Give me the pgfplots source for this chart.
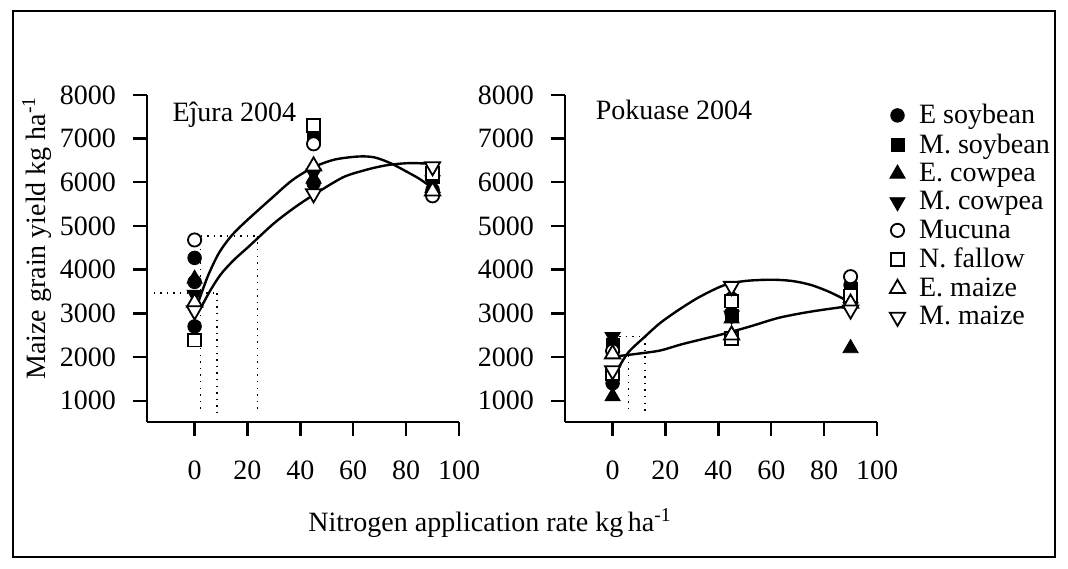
\documentclass[border=0pt]{standalone}
\usepackage{fontspec}
\setmainfont{Liberation Serif}
\usepackage{pgfplots}
\pgfplotsset{compat=1.18}

\newcommand{\lab}{\fontsize{14}{16}\selectfont}

\pgfplotsset{
  panel/.style={
    scale only axis, width=156pt, height=163.4pt,
    xmin=-18, xmax=100, ymin=520, ymax=8000,
    axis lines*=left,
    axis line style={line width=1.2pt, black},
    xtick={0,20,...,100}, ytick={1000,2000,...,8000},
    tick align=outside, major tick length=7pt,
    every tick/.style={line width=1.2pt, black},
    tick label style={font=\lab},
    xticklabel style={yshift=-9pt},
    yticklabel style={xshift=-5pt},
    /pgf/number format/.cd, set thousands separator={}, assume math mode=true,
    /pgfplots/.cd,
    clip=false,
  },
  fit/.style={black, line width=1.2pt, smooth, tension=0.5, no markers, forget plot},
  guide/.style={black, line width=0.7pt, dash pattern=on 0.7pt off 2.6pt, no markers, forget plot},
  es/.style={only marks, mark=*, mark size=3.4pt, black, fill=black},
  ms/.style={only marks, mark=square*, mark size=3.2pt, black, fill=black},
  ec/.style={only marks, mark=triangle*, mark size=4.4pt, black, fill=black},
  mc/.style={only marks, mark=triangle*, mark size=4.4pt, black, fill=black, mark options={rotate=180}},
  mu/.style={only marks, mark=*, mark size=3.3pt, black, fill=white, line width=0.9pt},
  nf/.style={only marks, mark=square*, mark size=3.2pt, black, fill=white, line width=0.9pt},
  em/.style={only marks, mark=triangle*, mark size=4.4pt, black, fill=white, line width=0.9pt},
  mm/.style={only marks, mark=triangle*, mark size=4.4pt, black, fill=white, line width=0.9pt, mark options={rotate=180}},
}

\begin{document}
\begin{tikzpicture}
\useasboundingbox (-73.5pt,-73.15pt) rectangle (460.5pt,210.85pt);
\draw[line width=1pt] (-67.2pt,-67.6pt) rectangle (454.2pt,205.3pt);

% Ejura 2004
\begin{axis}[panel, at={(0pt,0pt)}, anchor=south west]
\addplot[guide] coordinates {(-18,3462) (8.4,3462)};
\addplot[guide] coordinates {(2.3,4773) (23.7,4773)};
\addplot[guide] coordinates {(2.3,4773) (2.3,700)};
\addplot[guide] coordinates {(8.4,3462) (8.4,700)};
\addplot[guide] coordinates {(23.7,4773) (23.7,700)};
\addplot[fit] coordinates {(1.5,3270) (5,3850) (9.2,4380) (14,4780) (19.3,5100) (29.4,5650) (37,6050) (45,6345) (53,6520) (62,6590) (68,6570) (74,6440) (80,6250) (85,6080) (90,5870)};
\addplot[fit] coordinates {(2.3,3120) (6,3530) (10,3900) (15,4230) (20.5,4530) (30,5060) (38,5430) (45,5712) (56,6110) (64,6270) (70,6360) (75,6410) (82,6440) (90,6420)};
\addplot[es] coordinates {(0,4270) (0,3720) (0,2700) (45,5980) (90,5830)};
\addplot[ms] coordinates {(45,7080) (90,6130)};
\addplot[ec] coordinates {(0,3790) (45,6080) (90,5870)};
\addplot[mc] coordinates {(0,3430) (45,6200) (90,6050)};
\addplot[mu] coordinates {(0,4680) (45,6880) (90,5690)};
\addplot[nf] coordinates {(0,2390) (45,7300) (90,6200)};
\addplot[em] coordinates {(0,3250) (45,6370) (90,5800)};
\addplot[mm] coordinates {(0,3060) (45,5740) (90,6360)};
\node[font=\lab, anchor=base west] at (axis cs:-11,7390) {Eĵura 2004};
\end{axis}

% Pokuase 2004
\begin{axis}[panel, at={(209pt,0pt)}, anchor=south west,
  legend style={at={(1.04,0.985)}, anchor=north west, draw=none, fill=none,
    font=\lab, row sep=-0.5pt, inner sep=0pt,
    /tikz/every odd column/.append style={column sep=5pt}},
  legend cell align=left,
  legend image code/.code={\draw[#1, only marks] plot coordinates {(0pt,0pt)};}]
\addplot[guide] coordinates {(0,2466) (12.2,2466)};
\addplot[guide] coordinates {(6,2044) (6,700)};
\addplot[guide] coordinates {(12.2,2466) (12.2,700)};
\addplot[fit] coordinates {(2.1,1740) (6,2110) (12.2,2466) (18,2780) (25.5,3100) (33,3380) (42,3640) (50,3740) (60,3770) (68,3740) (75,3650) (82,3490) (90,3250)};
\addplot[fit] coordinates {(1.9,2020) (10,2080) (18,2150) (26,2290) (34,2410) (42,2530) (52,2700) (63,2900) (75,3040) (90,3170)};
\addplot[es] coordinates {(0,1400) (45,3000) (90,3650)};
\addlegendentry{E soybean}
\addplot[ms] coordinates {(0,2280) (45,2950) (90,3560)};
\addlegendentry{M. soybean}
\addplot[ec] coordinates {(0,1100) (45,2880) (90,2200)};
\addlegendentry{E. cowpea}
\addplot[mc] coordinates {(0,2460) (45,2950) (90,3150)};
\addlegendentry{M. cowpea}
\addplot[mu] coordinates {(0,2140) (45,3330) (90,3840)};
\addlegendentry{Mucuna}
\addplot[nf] coordinates {(0,1630) (45,3280) (45,2430) (90,3400)};
\addlegendentry{N. fallow}
\addplot[em] coordinates {(0,2070) (45,2500) (90,3230)};
\addlegendentry{E. maize}
\addplot[mm] coordinates {(0,1690) (45,3620) (90,3080)};
\addlegendentry{M. maize}
\node[font=\lab, anchor=base west] at (axis cs:-9,7430) {Pokuase 2004};
\end{axis}

\node[font=\lab, rotate=90] at (-55pt,91.85pt) {Maize grain yield kg ha\textsuperscript{-1}};
\node[font=\lab] at (171.5pt,-50.65pt) {Nitrogen application rate kg\,ha\textsuperscript{-1}};
\end{tikzpicture}
\end{document}
